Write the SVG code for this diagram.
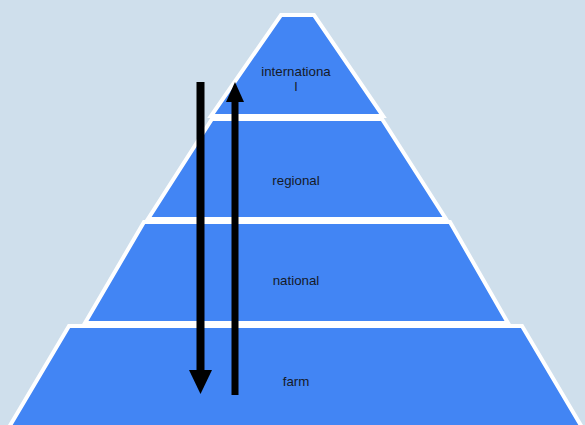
<svg xmlns="http://www.w3.org/2000/svg" width="585" height="425" viewBox="0 0 585 425">
<style>
.layer{fill:#4285f4;stroke:#ffffff;stroke-width:4;stroke-linejoin:miter}
.lbl{font-family:"Liberation Sans",Arial,sans-serif;font-size:13.3px;fill:#151a28;text-anchor:middle}
.arr{fill:#000000}
</style>
<rect x="0" y="0" width="585" height="425" fill="#cfdfec"/>
<g id="international">
<polygon class="layer" points="281,15 314,15 383,116 211,116"/>
<text class="lbl" x="296" y="76">internationa</text>
<text class="lbl" x="296" y="91">l</text>
</g>
<g id="regional">
<polygon class="layer" points="212,119 382,119 446,219 148,219"/>
<text class="lbl" x="296" y="185">regional</text>
</g>
<g id="national">
<polygon class="layer" points="144,222 450,222 508,323 85,323"/>
<text class="lbl" x="296" y="285">national</text>
</g>
<g id="farm">
<polygon class="layer" points="69,326 522,326 586,434 5,434"/>
<text class="lbl" x="296" y="386">farm</text>
</g>
<g id="connectors">
<rect class="arr" x="196.5" y="82" width="8" height="290"/>
<polygon class="arr" points="189,370 212,370 200.5,394"/>
<rect class="arr" x="231.5" y="99" width="7" height="296"/>
<polygon class="arr" points="226,102 244,102 235,82"/>
</g>
</svg>
